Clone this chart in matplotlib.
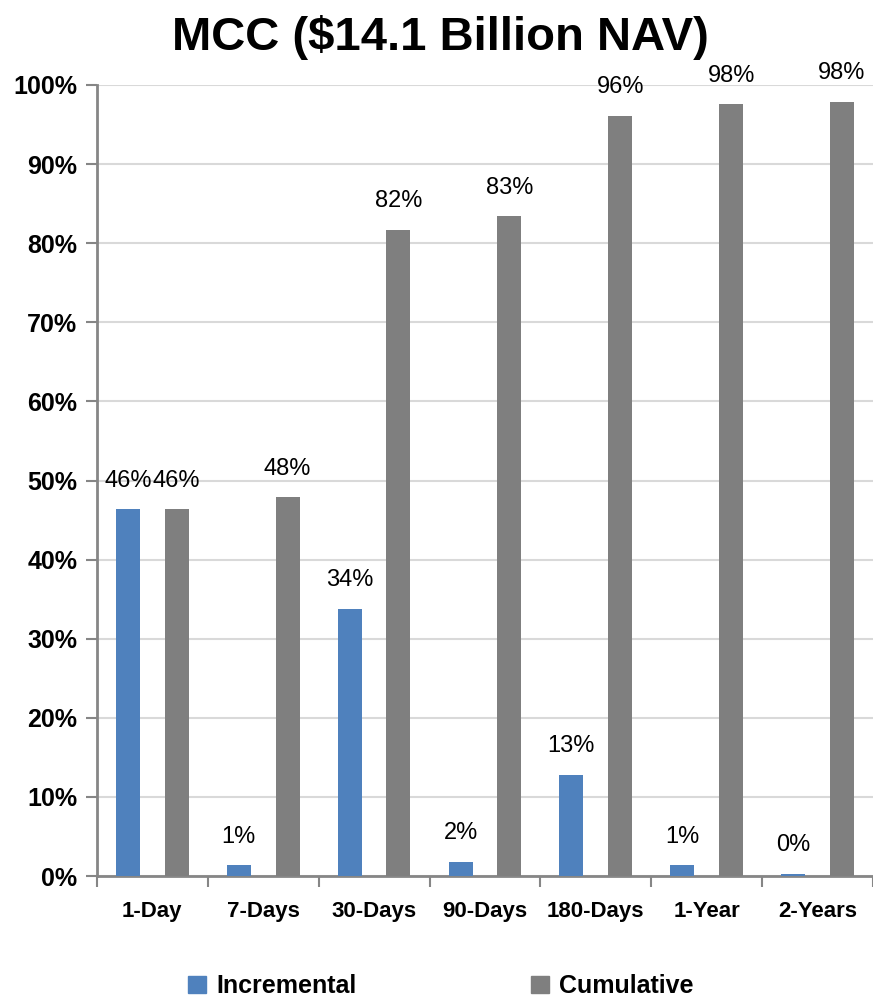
import numpy as np
import matplotlib
matplotlib.use("Agg")
import matplotlib.pyplot as plt
from matplotlib.patches import Patch

plt.rcParams["font.family"] = ["Liberation Sans", "DejaVu Sans"]

categories = ["1-Day", "7-Days", "30-Days", "90-Days", "180-Days", "1-Year", "2-Years"]
incremental = [46.4, 1.4, 33.8, 1.8, 12.8, 1.4, 0.3]
cumulative = [46.4, 47.9, 81.7, 83.4, 96.1, 97.6, 97.9]
yticks = [0, 10, 20, 30, 40, 50, 60, 70, 80, 90, 100]

BLUE = "#4f81bd"
GRAY = "#7f7f7f"
AX_GRAY = "#868686"

fig = plt.figure(figsize=(8.73, 10), dpi=100)
ax = fig.add_axes([0.111, 0.124, 0.889, 0.791])

x = np.arange(len(categories))
w = 0.216
off = 0.22
b1 = ax.bar(x - off, incremental, w, color=BLUE, zorder=3)
b2 = ax.bar(x + off, cumulative, w, color=GRAY, zorder=3)

for rects, vals in ((b1, incremental), (b2, cumulative)):
    for r, v in zip(rects, vals):
        ax.text(r.get_x() + r.get_width() / 2, v + 2.2, f"{v:.0f}%",
                ha="center", va="bottom", fontsize=17, clip_on=False)

ax.set_xlim(-0.5, len(categories) - 0.5)
ax.set_ylim(0, 100)
ax.set_yticks(yticks)
ax.set_yticklabels([f"{t}%" for t in yticks], fontsize=18, fontweight="bold")
ax.yaxis.grid(True, color="#d9d9d9", linewidth=1.5, zorder=0)
ax.set_axisbelow(True)

ax.set_xticks(np.arange(len(categories) + 1) - 0.5)
ax.set_xticklabels([])
ax.set_xticks(x, minor=True)
ax.set_xticklabels(categories, minor=True, fontsize=16, fontweight="bold")
ax.tick_params(axis="x", which="minor", length=0, pad=18)
ax.tick_params(axis="x", which="major", length=8, color=AX_GRAY, width=1.5)
ax.tick_params(axis="y", length=8, color=AX_GRAY, width=1.5, pad=6)

for s in ("top", "right"):
    ax.spines[s].set_visible(False)
for s in ("left", "bottom"):
    ax.spines[s].set_color(AX_GRAY)
    ax.spines[s].set_linewidth(2)

fig.text(0.505, 0.963, "MCC ($14.1 Billion NAV)", ha="center", va="center",
         fontsize=34, fontweight="bold")

handles = [Patch(color=BLUE, label="Incremental"), Patch(color=GRAY, label="Cumulative")]
fig.legend(handles=handles, loc="center", bbox_to_anchor=(0.505, 0.014), ncol=2,
           frameon=False, prop={"size": 18, "weight": "bold"},
           handlelength=0.7, handleheight=0.7, handletextpad=0.4, columnspacing=7)

fig.savefig("out.png", dpi=100)
